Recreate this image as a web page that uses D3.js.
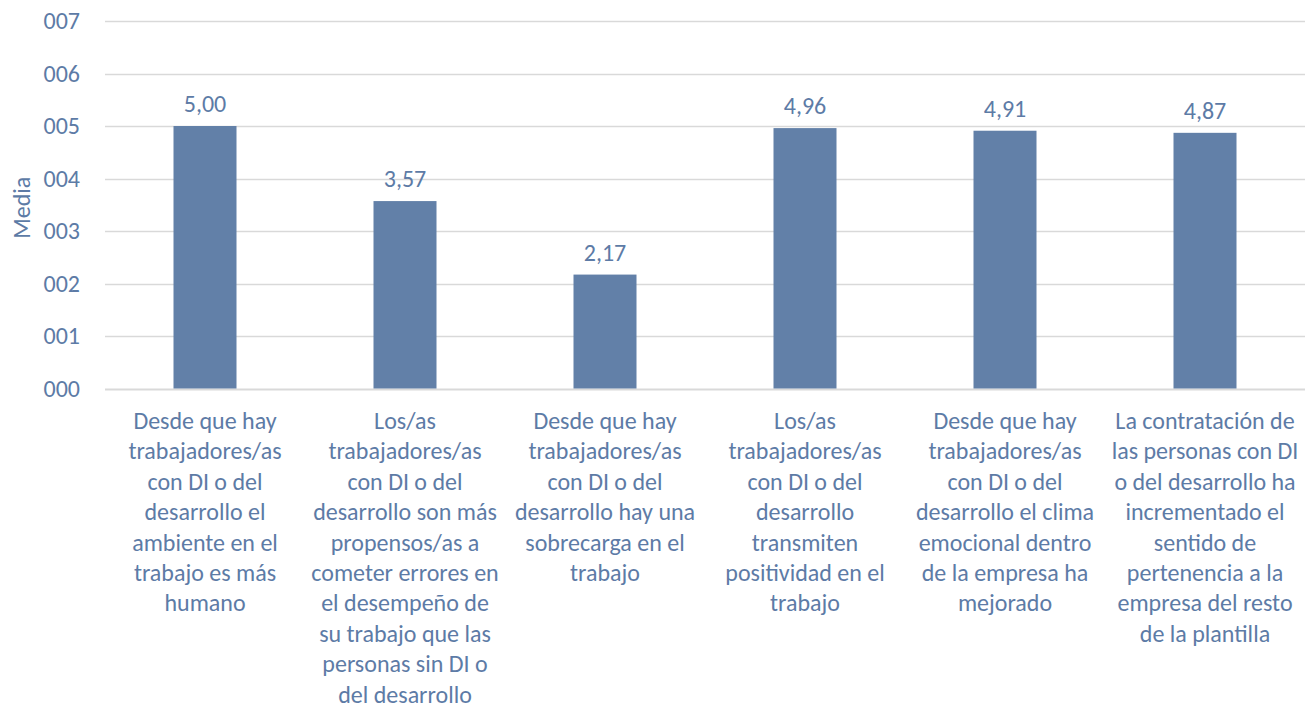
<!DOCTYPE html>
<html>
<head>
<meta charset="utf-8">
<script src="https://d3js.org/d3.v7.min.js"></script>
<style>
  body { margin: 0; background: #fff; }
  text { font-family: Carlito, "Open Sans", "Liberation Sans", sans-serif; }
</style>
</head>
<body>
<div id="chart"></div>
<script>
// categories, already broken into lines as in the original
var categories = [
  ["Desde que hay", "trabajadores/as", "con DI o del", "desarrollo el", "ambiente en el", "trabajo es más", "humano"],
  ["Los/as", "trabajadores/as", "con DI o del", "desarrollo son más", "propensos/as a", "cometer errores en", "el desempeño de", "su trabajo que las", "personas sin DI o", "del desarrollo"],
  ["Desde que hay", "trabajadores/as", "con DI o del", "desarrollo hay una", "sobrecarga en el", "trabajo"],
  ["Los/as", "trabajadores/as", "con DI o del", "desarrollo", "transmiten", "positividad en el", "trabajo"],
  ["Desde que hay", "trabajadores/as", "con DI o del", "desarrollo el clima", "emocional dentro", "de la empresa ha", "mejorado"],
  ["La contratación de", "las personas con DI", "o del desarrollo ha", "incrementado el", "sentido de", "pertenencia a la", "empresa del resto", "de la plantilla"]
];
var values = [5.00, 3.57, 2.17, 4.96, 4.91, 4.87];
var yTicks = [0, 1, 2, 3, 4, 5, 6, 7];

var width = 1313, height = 709;
var margin = { left: 105, right: 8, top: 21, bottom: 709 - 388.5 };
var barColor = "#6280a8";
var textColor = "#5d7ba6";
var fontSize = "24px";

var svg = d3.select("#chart").append("svg")
  .attr("width", width)
  .attr("height", height);

var x = d3.scaleBand()
  .domain(d3.range(categories.length))
  .range([margin.left, width - margin.right])
  .paddingInner(0.685)
  .paddingOuter(0.3425);

var y = d3.scaleLinear()
  .domain([0, 7])
  .range([height - margin.bottom, margin.top]);

// gridlines
svg.append("g")
  .selectAll("line")
  .data(yTicks)
  .enter().append("line")
  .attr("x1", margin.left)
  .attr("x2", width - margin.right)
  .attr("y1", function(d) { return Math.round(y(d)) + 0.5; })
  .attr("y2", function(d) { return Math.round(y(d)) + 0.5; })
  .attr("stroke", "#d9d9d9")
  .attr("stroke-width", function(d) { return d === 0 ? 2 : 1.5; });

// y axis labels
var yAxis = d3.axisLeft(y)
  .tickValues(yTicks)
  .tickFormat(d3.format("03d"))
  .tickSize(0)
  .tickPadding(0);

var ya = svg.append("g")
  .attr("transform", "translate(80,0)")
  .call(yAxis);
ya.select(".domain").remove();
ya.selectAll("text")
  .attr("fill", textColor)
  .style("font-size", fontSize)
  .style("font-family", null);

svg.append("text")
  .attr("transform", "translate(30," + (y(3.5) + 3) + ") rotate(-90)")
  .attr("text-anchor", "middle")
  .attr("fill", textColor)
  .style("font-size", fontSize)
  .text("Media");

// bars
svg.append("g")
  .selectAll("rect")
  .data(values)
  .enter().append("rect")
  .attr("x", function(d, i) { return x(i); })
  .attr("width", x.bandwidth())
  .attr("y", function(d) { return y(d); })
  .attr("height", function(d) { return y(0) - y(d); })
  .attr("fill", barColor);

// value labels
var fmt = function(v) { return d3.format(".2f")(v).replace(".", ","); };
svg.append("g")
  .selectAll("text")
  .data(values)
  .enter().append("text")
  .attr("x", function(d, i) { return x(i) + x.bandwidth() / 2; })
  .attr("y", function(d) { return y(d) - 14; })
  .attr("text-anchor", "middle")
  .attr("fill", textColor)
  .style("font-size", fontSize)
  .text(fmt);

// category labels
var cat = svg.append("g")
  .selectAll("text")
  .data(categories)
  .enter().append("text")
  .attr("text-anchor", "middle")
  .attr("fill", textColor)
  .style("font-size", fontSize);

cat.selectAll("tspan")
  .data(function(d, i) { return d.map(function(l) { return { line: l, i: i }; }); })
  .enter().append("tspan")
  .attr("x", function(d) { return x(d.i) + x.bandwidth() / 2; })
  .attr("y", function(d, j) { return 429 + j * 30.4; })
  .text(function(d) { return d.line; });
</script>
</body>
</html>
